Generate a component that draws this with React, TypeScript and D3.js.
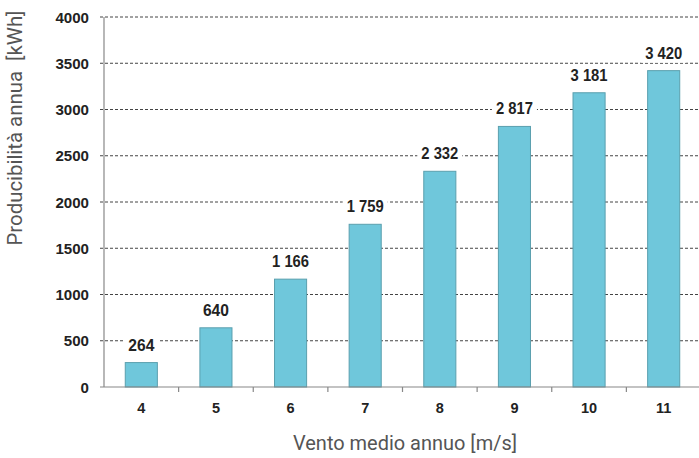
import React from "react";
import * as d3 from "d3";

const categories = ["4", "5", "6", "7", "8", "9", "10", "11"];
const values = [264, 640, 1166, 1759, 2332, 2817, 3181, 3420];
const valueLabels = ["264", "640", "1 166", "1 759", "2 332", "2 817", "3 181", "3 420"];
const yTicks = [0, 500, 1000, 1500, 2000, 2500, 3000, 3500, 4000];

export default function App() {
  const W = 699, H = 458;
  const left = 104, right = 701, top = 17, bottom = 387;
  const x = d3.scaleBand<string>().domain(categories).range([left, right]).paddingInner(0.57).paddingOuter(0.285);
  const step = (right - left) / categories.length;
  const y = d3.scaleLinear().domain([0, 4000]).range([bottom, top]);
  const bold = "'Liberation Sans', Arial, sans-serif";
  return (
    <svg width={W} height={H} style={{ position: "absolute", left: 0, top: 0, background: "#fff" }}>
      {yTicks.map((t) => (
        <g key={t}>
          {t > 0 && (
            <line x1={left - 4} x2={W} y1={y(t)} y2={y(t)} stroke="#444" strokeWidth={1} strokeDasharray="3,2" />
          )}
          <text x={89} y={y(t) + 5.5} textAnchor="end" fontFamily={bold} fontWeight="bold" fontSize={14.5} fill="#222" textLength={String(t).length * 8.4} lengthAdjust="spacingAndGlyphs">
            {t}
          </text>
        </g>
      ))}
      {categories.map((c, i) => {
        const bx = x(c)!;
        const bw = x.bandwidth();
        const cx = bx + bw / 2;
        const ly = y(values[i]) - 12;
        const tl = valueLabels[i].length === 3 ? 26 : 37;
        return (
          <g key={c}>
            <rect x={cx - tl / 2 - 4} y={ly - 14} width={tl + 8} height={18} fill="#fff" />
            <rect x={bx} y={y(values[i])} width={bw} height={bottom - y(values[i])} fill="#6FC7DB" stroke="#5a9fae" strokeWidth={1} />
            <text x={cx} y={ly} textAnchor="middle" fontFamily={bold} fontWeight="bold" fontSize={16.5} fill="#222" textLength={tl} lengthAdjust="spacingAndGlyphs">
              {valueLabels[i]}
            </text>
            <text x={cx} y={413} textAnchor="middle" fontFamily={bold} fontWeight="bold" fontSize={14.5} fill="#222">
              {c}
            </text>
          </g>
        );
      })}
      <line x1={left} x2={left} y1={top} y2={bottom} stroke="#888" strokeWidth={1.2} />
      <line x1={left - 4} x2={W} y1={bottom} y2={bottom} stroke="#888" strokeWidth={1.2} />
      {d3.range(1, categories.length).map((i) => (
        <line key={i} x1={left + i * step} x2={left + i * step} y1={bottom} y2={bottom + 5} stroke="#888" strokeWidth={1.2} />
      ))}
      <text
        transform="translate(22,128) rotate(-90)"
        textAnchor="middle"
        fontFamily="Roboto, 'Liberation Sans', sans-serif"
        fontSize={19.5}
        fill="#555"
        textLength={235}
        lengthAdjust="spacingAndGlyphs"
        style={{ whiteSpace: "pre" }}
      >
        {"Producibilità annua\u00a0 [kWh]"}
      </text>
      <text
        x={405}
        y={450}
        textAnchor="middle"
        fontFamily="Roboto, 'Liberation Sans', sans-serif"
        fontSize={20.5}
        fill="#555"
        textLength={224}
        lengthAdjust="spacingAndGlyphs"
      >
        Vento medio annuo [m/s]
      </text>
    </svg>
  );
}
